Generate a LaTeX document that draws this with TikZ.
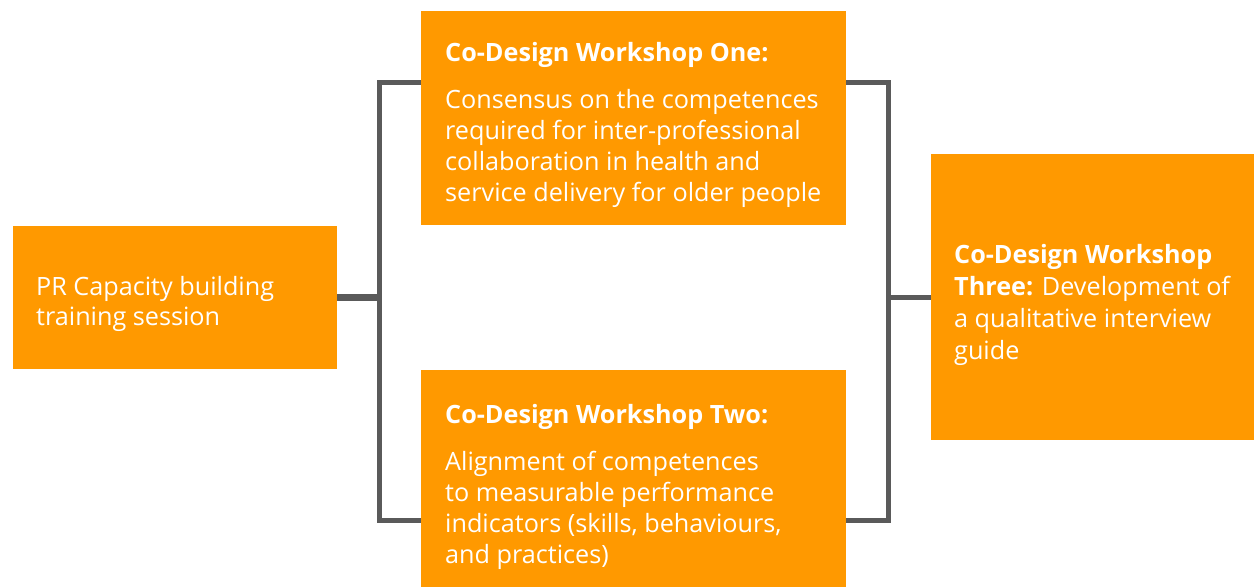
\documentclass[tikz,border=0pt]{standalone}
\usepackage{fontspec}
\setmainfont{Open Sans}
\definecolor{boxorange}{HTML}{FF9900}
\definecolor{conngray}{HTML}{5A5A5A}
\begin{document}
\begin{tikzpicture}[x=1pt,y=-1pt,
  box/.style={fill=boxorange,draw=none,inner sep=0pt,outer sep=0pt},
  conn/.style={draw=conngray,line width=5pt,line join=miter},
  txt/.style={anchor=base west,inner sep=0pt,text=white,font=\fontsize{25.2}{31}\selectfont}]
\useasboundingbox (0,0) rectangle (1254,587);
% boxes
\node[box,minimum width=324pt,minimum height=143pt] (left) at (175,297.5) {};
\node[box,minimum width=425pt,minimum height=214pt] (top) at (633.5,118) {};
\node[box,minimum width=425pt,minimum height=217pt] (bottom) at (633.5,478.5) {};
\node[box,minimum width=323pt,minimum height=286pt] (right) at (1092.5,297) {};
% texts
\node[txt] (lefttxt) at (36,295) {\parbox[t]{290pt}{PR Capacity building\\[-1pt]training session}};
\node[txt] (toptxt) at (445,61) {\parbox[t]{400pt}{\textbf{Co-Design Workshop One:}\\[16pt]Consensus on the competences\\required for inter-professional\\collaboration in health and\\service delivery for older people}};
\node[txt] (bottomtxt) at (445,423) {\parbox[t]{400pt}{\textbf{Co-Design Workshop Two:}\\[16pt]Alignment of competences\\to measurable performance\\indicators (skills, behaviours,\\and practices)}};
\node[txt] (righttxt) at (954,263) {\parbox[t]{300pt}{\textbf{Co-Design Workshop}\\[1pt]\textbf{Three:} Development of\\[1pt]a qualitative interview\\[1pt]guide}};
% connectors
\coordinate (lj) at (379,297);
\coordinate (tl) at (379,82.5);
\coordinate (bl) at (379,520.5);
\coordinate (tr) at (888.5,82.5);
\coordinate (br) at (888.5,520.5);
\coordinate (rj) at (888.5,297.5);
\draw[conn,line width=7pt] (left.east |- lj) -- (lj);
\draw[conn] (top.west |- tl) -- (tl) -- (bl) -- (bottom.west |- bl);
\draw[conn] (top.east |- tr) -- (tr) -- (br) -- (bottom.east |- br);
\draw[conn] (rj) -- (right.west |- rj);
\end{tikzpicture}
\end{document}
